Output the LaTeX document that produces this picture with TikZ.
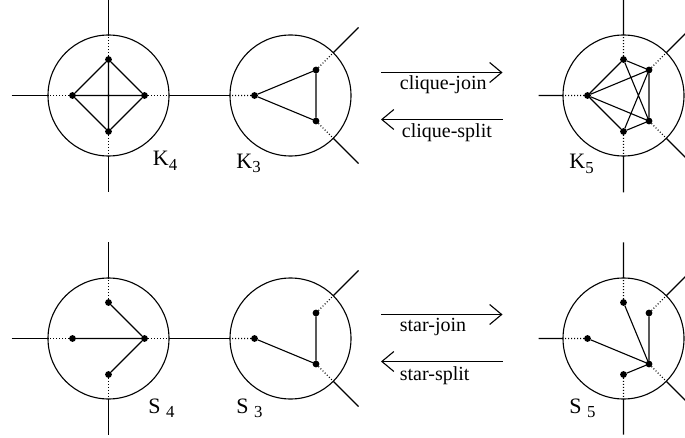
\documentclass[tikz,border=0pt]{standalone}
\usepackage{fontspec}
\setmainfont{Liberation Serif}
\usetikzlibrary{arrows.meta}
\newcommand{\lsub}[1]{\raisebox{-2.2pt}{\fontsize{8.4}{9}\selectfont #1}}
\begin{document}
\begin{tikzpicture}[x=0.5pt,y=-0.5pt,
  ring/.style={circle,draw,line width=0.55pt,minimum size=60.5pt,inner sep=0pt,outer sep=0pt},
  vtx/.style={circle,fill,inner sep=0pt,minimum size=3.4pt,outer sep=0pt},
  ln/.style={line width=0.55pt},
  dotln/.style={line width=0.55pt,dash pattern=on 0.5pt off 1pt},
  lab/.style={font=\fontsize{11}{12}\selectfont,inner sep=0pt,anchor=base west},
  alab/.style={font=\fontsize{10}{12}\selectfont,inner sep=0pt,anchor=west},
  arr/.style={line width=0.55pt,-{Straight Barb[length=6pt,width=10pt]}}]
\useasboundingbox (0,0) rectangle (685,438);
\clip (0,0) rectangle (685,438);
\begin{scope}[shift={(0.5,0.5)}]
% ---------------- top row ----------------
\node[ring] (C1) at (108,95) {};
\node[ring] (C2) at (290,95) {};
\node[ring] (C3) at (623,95) {};

% K4
\node[vtx] (k4t) at (108,59) {};
\node[vtx] (k4b) at (108,131) {};
\node[vtx] (k4l) at (72,95) {};
\node[vtx] (k4r) at (144,95) {};
\draw[ln] (k4t)--(k4l)--(k4b)--(k4r)--(k4t) (k4t)--(k4b) (k4l)--(k4r);
\draw[dotln] (k4t)--(C1.north) (k4b)--(C1.south) (k4l)--(C1.west) (k4r)--(C1.east);
\coordinate (n1) at (108,-2);
\coordinate (s1) at (108,192);
\coordinate (w1) at (11,95);
\draw[ln] (n1)--(C1.north) (C1.south)--(s1) (w1)--(C1.west) (C1.east)--(C2.west);

% K3
\node[vtx] (k3l) at (254,95) {};
\node[vtx] (k3u) at (315.5,69.5) {};
\node[vtx] (k3d) at (315.5,120.5) {};
\draw[ln] (k3l)--(k3u)--(k3d)--(k3l);
\draw[dotln] (k3l)--(C2.west) (k3u)--(C2.45) (k3d)--(C2.-45);
\coordinate (ne2) at (358,27);
\coordinate (se2) at (358,163);
\draw[ln] (C2.45)--(ne2) (C2.-45)--(se2);

% K5
\node[vtx] (k5t) at (623,59) {};
\node[vtx] (k5b) at (623,131) {};
\node[vtx] (k5l) at (587,95) {};
\node[vtx] (k5u) at (648.5,69.5) {};
\node[vtx] (k5d) at (648.5,120.5) {};
\draw[ln] (k5t)--(k5l) (k5t)--(k5u) (k5t)--(k5d)
  (k5l)--(k5u) (k5l)--(k5d) (k5l)--(k5b)
  (k5b)--(k5u) (k5b)--(k5d) (k5u)--(k5d);
\draw[dotln] (k5t)--(C3.north) (k5b)--(C3.south) (k5l)--(C3.west) (k5u)--(C3.45) (k5d)--(C3.-45);
\coordinate (n3) at (623,-2);
\coordinate (s3) at (623,192);
\coordinate (w3) at (538,95);
\coordinate (ne3) at (700,18);
\coordinate (se3) at (700,172);
\draw[ln] (n3)--(C3.north) (C3.south)--(s3) (w3)--(C3.west) (C3.45)--(ne3) (C3.-45)--(se3);

\node[lab] (lk4) at (152,165.5) {K\lsub{4}};
\node[lab] (lk3) at (235.5,168) {K\lsub{3}};
\node[lab] (lk5) at (568.5,168.5) {K\lsub{5}};

% clique arrows
\coordinate (cj1) at (380.5,72);
\coordinate (cj2) at (502,72);
\coordinate (cs1) at (502,119);
\coordinate (cs2) at (380.5,119);
\draw[arr] (cj1)--(cj2);
\draw[arr] (cs1)--(cs2);
\node[alab] (tcj) at (399,84) {clique-join};
\node[alab] (tcs) at (401,132) {clique-split};

% ---------------- bottom row ----------------
\node[ring] (D1) at (108,338) {};
\node[ring] (D2) at (290,338) {};
\node[ring] (D3) at (623,338) {};

% S4
\node[vtx] (s4t) at (108,302) {};
\node[vtx] (s4b) at (108,374) {};
\node[vtx] (s4l) at (72,338) {};
\node[vtx] (s4r) at (144,338) {};
\draw[ln] (s4t)--(s4r) (s4b)--(s4r) (s4l)--(s4r);
\draw[dotln] (s4t)--(D1.north) (s4b)--(D1.south) (s4l)--(D1.west) (s4r)--(D1.east);
\coordinate (n4) at (108,242);
\coordinate (s4) at (108,434);
\coordinate (w4) at (11,338);
\draw[ln] (n4)--(D1.north) (D1.south)--(s4) (w4)--(D1.west) (D1.east)--(D2.west);

% S3
\node[vtx] (s3l) at (254,338) {};
\node[vtx] (s3u) at (315.5,312.5) {};
\node[vtx] (s3d) at (315.5,363.5) {};
\draw[ln] (s3l)--(s3d)--(s3u);
\draw[dotln] (s3l)--(D2.west) (s3u)--(D2.45) (s3d)--(D2.-45);
\coordinate (ne5) at (358,270);
\coordinate (se5) at (358,406);
\draw[ln] (D2.45)--(ne5) (D2.-45)--(se5);

% S5
\node[vtx] (s5t) at (623,302) {};
\node[vtx] (s5b) at (623,374) {};
\node[vtx] (s5l) at (587,338) {};
\node[vtx] (s5u) at (648.5,312.5) {};
\node[vtx] (s5d) at (648.5,363.5) {};
\draw[ln] (s5t)--(s5d) (s5u)--(s5d) (s5l)--(s5d) (s5b)--(s5d);
\draw[dotln] (s5t)--(D3.north) (s5b)--(D3.south) (s5l)--(D3.west) (s5u)--(D3.45) (s5d)--(D3.-45);
\coordinate (n6) at (623,242);
\coordinate (s6) at (623,434);
\coordinate (w6) at (538,338);
\coordinate (ne6) at (700,261);
\coordinate (se6) at (700,415);
\draw[ln] (n6)--(D3.north) (D3.south)--(s6) (w6)--(D3.west) (D3.45)--(ne6) (D3.-45)--(se6);

\node[lab] (ls4) at (147.5,412.5) {S \lsub{4}};
\node[lab] (ls3) at (235.5,412.5) {S \lsub{3}};
\node[lab] (ls5) at (568.5,412.5) {S \lsub{5}};

% star arrows
\coordinate (sj1) at (380.5,314);
\coordinate (sj2) at (502,314);
\coordinate (ss1) at (502,361);
\coordinate (ss2) at (380.5,361);
\draw[arr] (sj1)--(sj2);
\draw[arr] (ss1)--(ss2);
\node[alab] (tsj) at (399,327) {star-join};
\node[alab] (tss) at (399,375) {star-split};
\end{scope}
\end{tikzpicture}
\end{document}
